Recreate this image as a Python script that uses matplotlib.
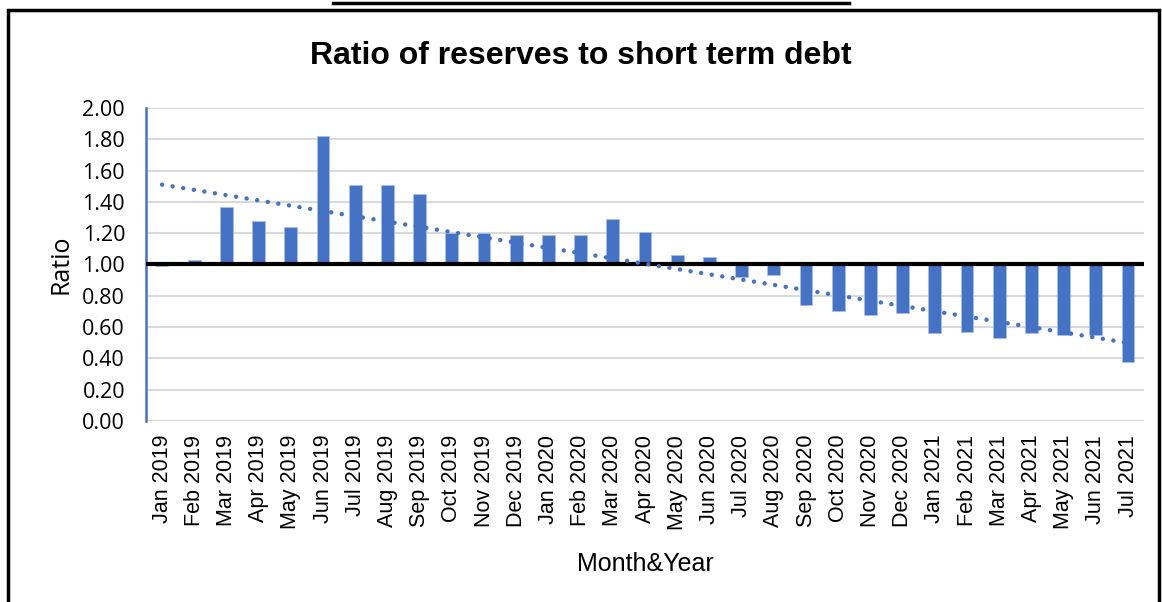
import numpy as np
import matplotlib
matplotlib.use('Agg')
import matplotlib.pyplot as plt
from matplotlib.lines import Line2D
from matplotlib.patches import Rectangle

months = ['Jan 2019', 'Feb 2019', 'Mar 2019', 'Apr 2019', 'May 2019', 'Jun 2019',
          'Jul 2019', 'Aug 2019', 'Sep 2019', 'Oct 2019', 'Nov 2019', 'Dec 2019',
          'Jan 2020', 'Feb 2020', 'Mar 2020', 'Apr 2020', 'May 2020', 'Jun 2020',
          'Jul 2020', 'Aug 2020', 'Sep 2020', 'Oct 2020', 'Nov 2020', 'Dec 2020',
          'Jan 2021', 'Feb 2021', 'Mar 2021', 'Apr 2021', 'May 2021', 'Jun 2021',
          'Jul 2021']
ratio = [0.99, 1.03, 1.37, 1.28, 1.24, 1.82,
         1.51, 1.51, 1.45, 1.20, 1.20, 1.19,
         1.19, 1.19, 1.29, 1.21, 1.06, 1.05,
         0.92, 0.93, 0.74, 0.70, 0.68, 0.69,
         0.56, 0.57, 0.53, 0.56, 0.55, 0.55,
         0.38]
baseline = 1.0
yticks = [0.0, 0.2, 0.4, 0.6, 0.8, 1.0, 1.2, 1.4, 1.6, 1.8, 2.0]

blue = '#4472C4'
x = np.arange(len(months))
vals = np.array(ratio)

fig = plt.figure(figsize=(11.62, 6.02), dpi=100)
ax = fig.add_axes([0.1256, 0.3007, 0.8590, 0.5199])

ax.set_ylim(0, 2.0)
ax.set_xlim(-0.5, len(months) - 0.5)
ax.set_yticks(yticks)
ax.set_yticklabels(['%.2f' % t for t in yticks], family=['Open Sans', 'DejaVu Sans'], fontsize=15.5)
ax.yaxis.grid(True, color='#d9d9d9', linewidth=1.5)
ax.set_axisbelow(True)

ax.bar(x, vals - baseline, bottom=baseline, width=0.4, color=blue,
       edgecolor='#a9bfe6', linewidth=0.6, zorder=2)
ax.axhline(baseline, color='black', linewidth=3, zorder=3)

# linear trend line like the spreadsheet one
k, b = np.polyfit(x, vals, 1)
ax.plot(x, k * x + b, color=blue, linewidth=3.2, linestyle=(0, (0.01, 2.4)),
        dash_capstyle='round', zorder=4)

ax.set_xticks(x)
ax.set_xticklabels(months, rotation=90, family=['Liberation Sans', 'DejaVu Sans'], fontsize=15.5)
ax.tick_params(axis='both', length=0)
ax.tick_params(axis='y', pad=15)
ax.tick_params(axis='x', pad=10)

for s in ['top', 'right', 'bottom']:
    ax.spines[s].set_visible(False)
ax.spines['left'].set_color(blue)
ax.spines['left'].set_linewidth(1.8)

ax.set_ylabel('Ratio', family=['Open Sans', 'DejaVu Sans'], fontsize=18, labelpad=6)
ax.set_xlabel('Month&Year', family=['Liberation Sans', 'DejaVu Sans'],
              fontsize=18, labelpad=16)

fig.text(0.5, 0.907, 'Ratio of reserves to short term debt',
         family=['Liberation Sans', 'DejaVu Sans'],
         fontweight='bold', fontsize=23, ha='center', va='center')

# outer frame and the cut-off line above it
fig.add_artist(Rectangle((8 / 1162, -0.05), 1151 / 1162, 1.05 - 10 / 602,
                         transform=fig.transFigure, fill=False,
                         edgecolor='black', linewidth=2.5))
fig.add_artist(Line2D([333 / 1162, 849 / 1162], [1 - 3 / 602, 1 - 3 / 602],
                      transform=fig.transFigure, color='black', linewidth=2.5))

fig.savefig('out.png', dpi=100)
